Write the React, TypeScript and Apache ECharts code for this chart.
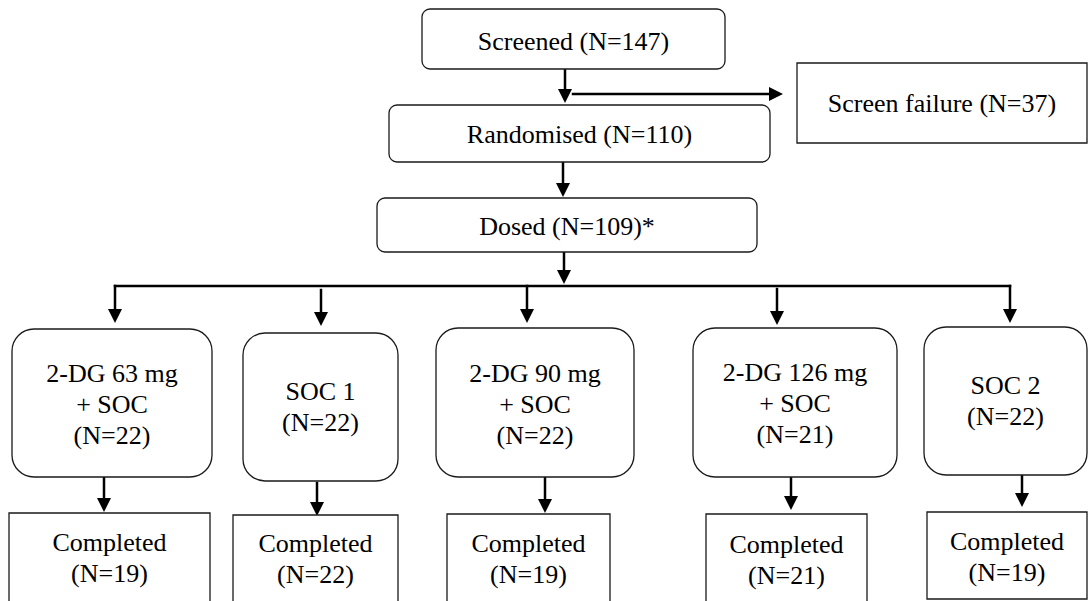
import React, { useEffect, useRef } from "react";
import * as echarts from "echarts";

// ---- content (data) ----
const stageLabels = ["Screened", "Randomised", "Dosed"];
const stageCounts = [147, 110, 109];
const stageSuffix = ["", "", "*"];
const failureLabel = "Screen failure";
const failureCount = 37;
const armLabels = ["2-DG 63 mg\n+ SOC", "SOC 1", "2-DG 90 mg\n+ SOC", "2-DG 126 mg\n+ SOC", "SOC 2"];
const armCounts = [22, 22, 22, 21, 22];
const completedLabel = "Completed";
const completedCounts = [19, 22, 19, 21, 19];

// ---- layout (axis units = pixels of the 1089 x 601 canvas) ----
const stageBoxes = [
  [422, 9, 725, 69],
  [389, 105, 770, 162],
  [377, 198, 757, 252],
];
const stageTextY = [41, 134, 226];
const failureBox = [797, 63, 1087, 143];
const failureTextY = [103];
const armBoxes = [
  [12, 329, 212, 477],
  [243, 333, 398, 481],
  [436, 328, 634, 477],
  [693, 328, 897, 477],
  [924, 327, 1087, 475],
];
const armTextY = [404, 407, 404, 403, 401];
const completedBoxes = [
  [9, 513, 210, 606],
  [233, 515, 398, 606],
  [447, 514, 610, 606],
  [706, 514, 867, 606],
  [927, 512, 1087, 599],
];
const completedTextY = [558, 559, 559, 560, 557];
// arrows: x0, y0, x1, y1, head (1) or plain line (0)
const arrows = [
  [565, 69, 565, 103, 1],
  [573, 94, 783, 94, 1],
  [563, 162, 563, 197, 1],
  [564, 252, 564, 284, 1],
  [115, 286, 1010, 286, 0],
  [115, 286, 115, 323, 1],
  [321, 290, 321, 326, 1],
  [527, 286, 527, 323, 1],
  [777, 289, 777, 325, 1],
  [1010, 286, 1010, 323, 1],
  [104, 477, 104, 512, 1],
  [317, 483, 317, 516, 1],
  [545, 477, 545, 513, 1],
  [791, 477, 791, 510, 1],
  [1022, 475, 1022, 507, 1],
];

const FONT_FAMILY = '"Liberation Serif", "Times New Roman", serif';

type Box = { value: number[]; text: string; textY: number };

function buildBoxes(): Box[] {
  const out: Box[] = [];
  stageLabels.forEach((l, i) => {
    out.push({ value: [...stageBoxes[i], 8], text: `${l} (N=${stageCounts[i]})${stageSuffix[i]}`, textY: stageTextY[i] });
  });
  out.push({ value: [...failureBox, 0], text: `${failureLabel} (N=${failureCount})`, textY: failureTextY[0] });
  armLabels.forEach((l, i) => {
    out.push({ value: [...armBoxes[i], 22], text: `${l}\n(N=${armCounts[i]})`, textY: armTextY[i] });
  });
  completedCounts.forEach((c, i) => {
    out.push({ value: [...completedBoxes[i], 0], text: `${completedLabel}\n(N=${c})`, textY: completedTextY[i] });
  });
  return out;
}

export default function App() {
  const ref = useRef<HTMLDivElement>(null);
  useEffect(() => {
    if (!ref.current) return;
    const chart = echarts.init(ref.current, undefined, { renderer: "svg" });
    const boxes = buildBoxes();
    const option: any = {
      animation: false,
      backgroundColor: "#ffffff",
      grid: { left: 0, right: 0, top: 0, bottom: 0, containLabel: false },
      xAxis: { type: "value", min: 0, max: 1089, show: false },
      yAxis: { type: "value", min: 0, max: 601, inverse: true, show: false },
      series: [
        {
          type: "custom",
          name: "arrows",
          clip: false,
          silent: true,
          data: arrows.map((a) => ({ value: a })),
          encode: { x: [0, 2], y: [1, 3] },
          renderItem: (params: any, api: any) => {
            const p0 = api.coord([api.value(0), api.value(1)]);
            const p1 = api.coord([api.value(2), api.value(3)]);
            const head = api.value(4) === 1;
            const children: any[] = [];
            const headLen = 14;
            const headHalf = 7;
            let end = p1;
            let poly: number[][] | null = null;
            if (head) {
              const dx = p1[0] - p0[0];
              const dy = p1[1] - p0[1];
              const len = Math.sqrt(dx * dx + dy * dy) || 1;
              const ux = dx / len;
              const uy = dy / len;
              const bx = p1[0] - ux * headLen;
              const by = p1[1] - uy * headLen;
              end = [bx + ux * 1, by + uy * 1];
              poly = [
                [p1[0], p1[1]],
                [bx - uy * headHalf, by + ux * headHalf],
                [bx + uy * headHalf, by - ux * headHalf],
              ];
            }
            children.push({
              type: "line",
              shape: { x1: p0[0], y1: p0[1], x2: end[0], y2: end[1] },
              style: { stroke: "#000", lineWidth: 2.5, lineCap: "square" },
            });
            if (poly) {
              children.push({ type: "polygon", shape: { points: poly }, style: { fill: "#000" } });
            }
            return { type: "group", children };
          },
          z: 1,
        },
        {
          type: "custom",
          name: "boxes",
          clip: false,
          silent: true,
          data: boxes.map((b) => ({ value: b.value })),
          encode: { x: [0, 2], y: [1, 3] },
          renderItem: (params: any, api: any) => {
            const p0 = api.coord([api.value(0), api.value(1)]);
            const p1 = api.coord([api.value(2), api.value(3)]);
            const r = api.value(4);
            const b = boxes[params.dataIndex];
            const ty = api.coord([0, b.textY])[1];
            return {
              type: "group",
              children: [
                {
                  type: "rect",
                  shape: {
                    x: Math.min(p0[0], p1[0]),
                    y: Math.min(p0[1], p1[1]),
                    width: Math.abs(p1[0] - p0[0]),
                    height: Math.abs(p1[1] - p0[1]),
                    r,
                  },
                  style: { fill: "#ffffff", stroke: "#1a1a1a", lineWidth: 1.3 },
                },
                {
                  type: "text",
                  style: {
                    text: b.text,
                    x: (p0[0] + p1[0]) / 2,
                    y: ty,
                    align: "center",
                    verticalAlign: "middle",
                    fontFamily: FONT_FAMILY,
                    fontSize: 26,
                    lineHeight: 31,
                    fill: "#000",
                  },
                },
              ],
            };
          },
          z: 2,
        },
      ],
    };
    chart.setOption(option);
    return () => chart.dispose();
  }, []);
  return (
    <div
      ref={ref}
      style={{ position: "absolute", left: 0, top: 0, width: 1089, height: 601, background: "#fff" }}
    />
  );
}
